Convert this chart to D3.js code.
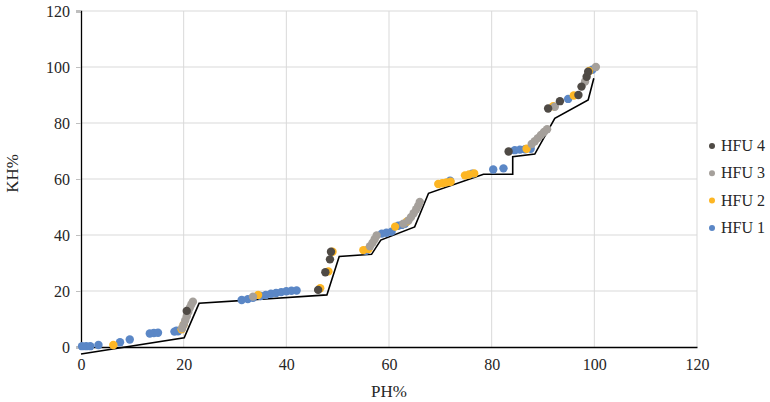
<!DOCTYPE html>
<html>
<head>
<meta charset="utf-8">
<script src="https://cdn.jsdelivr.net/npm/d3@7"></script>
<style>
  body { margin: 0; background: #fff; }
  svg text { font-family: "Liberation Serif", "Times New Roman", serif !important; fill: #262626; }
</style>
</head>
<body>
<div id="chart"></div>
<script>
// tick labels
const xTicks = [0, 20, 40, 60, 80, 100, 120];
const yTicks = [0, 20, 40, 60, 80, 100, 120];

// series names, legend order (top to bottom)
const seriesNames = ['HFU 4', 'HFU 3', 'HFU 2', 'HFU 1'];

// [PH%, KH%]
const hfu1 = [
  [0.2, 0.3], [1.0, 0.3], [1.8, 0.3], [3.4, 0.7], [7.6, 1.7], [9.5, 2.7],
  [13.4, 4.8], [14.2, 5.0], [15.0, 5.1], [18.2, 5.5], [18.9, 5.6], [18.6, 5.8],
  [31.3, 16.8], [32.5, 17.1], [33.5, 17.6], [35, 18.2], [36, 18.6], [37, 19],
  [38, 19.3], [39, 19.6], [40, 19.9], [41, 20.1], [42, 20.2],
  [55.5, 34.4], [58.6, 40.5], [59.5, 40.8], [60.5, 41.2], [61.8, 43.3], [62.5, 43.6], [63.1, 44],
  [71.9, 59.4], [76.2, 61.9], [80.3, 63.4], [82.3, 63.8],
  [84.5, 70.3], [85.5, 70.5], [86.5, 70.6], [87.6, 70.8], [94.9, 88.6], [99.6, 99]
];
const hfu2 = [
  [6.3, 0.7], [19.6, 6.3], [20.0, 8], [34.5, 18.6], [46.6, 21], [48.2, 27], [49, 34],
  [55, 34.6], [56, 35], [61.2, 43], [63.5, 44.8],
  [69.6, 58.2], [70.4, 58.5], [71.2, 58.8], [72.0, 59.0], [74.8, 61.3], [75.6, 61.6], [76.6, 62.0],
  [86.8, 70.8], [92.0, 86], [96, 89.8], [99, 98.6]
];
const hfu3 = [
  [19.7, 6.7], [20.0, 8], [20.3, 9.5], [20.6, 11], [20.9, 12.5], [21.2, 14], [21.5, 15.2], [21.8, 16.2],
  [33.5, 18],
  [56.3, 36], [56.8, 37.2], [57.2, 38.5], [57.6, 39.8],
  [62.8, 44], [63.8, 45.2], [64.3, 46.4], [64.8, 47.8], [65.3, 49.2], [65.7, 50.5], [66.0, 51.8],
  [87.8, 72.5], [88.4, 73.5], [89, 74.6], [89.6, 75.7], [90.2, 76.8], [90.8, 77.8],
  [92.3, 85.8], [98.2, 94.8], [100.3, 100]
];
const hfu4 = [
  [20.6, 12.9], [46.2, 20.4], [47.6, 26.7], [48.5, 31.3], [48.7, 34.0],
  [83.3, 69.8], [91.0, 85.2], [93.3, 87.8], [96.9, 90], [97.5, 93], [98.5, 96.5], [98.8, 98.3]
];

// black reference line
const refLine = [
  [0, -2.5], [20.1, 3.3], [23, 15.6], [47.9, 18.6], [50.3, 32.3], [56.6, 33.1],
  [58.4, 38.2], [65, 42.9], [67.7, 54.9], [78.4, 61.7], [84.1, 61.7], [84.1, 68.0],
  [88.4, 68.9], [92.3, 81.7], [98.8, 88.2], [99.9, 96]
];

const colors = {
  'HFU 4': '#4f4a45',
  'HFU 3': '#a5a09b',
  'HFU 2': '#fdb624',
  'HFU 1': '#5b87c6'
};

const width = 770;
const height = 402;

const svg = d3.select('#chart')
  .append('svg')
  .attr('width', width)
  .attr('height', height);

const x = d3.scaleLinear().domain([0, 120]).range([81, 697]);
const y = d3.scaleLinear().domain([0, 120]).range([347, 11]);

// gridlines
svg.append('g')
  .selectAll('line')
  .data(xTicks.slice(1))
  .enter()
  .append('line')
  .attr('x1', d => x(d)).attr('x2', d => x(d))
  .attr('y1', y(0)).attr('y2', y(120))
  .attr('stroke', '#d9d9d9');

svg.append('g')
  .selectAll('line')
  .data(yTicks.slice(1))
  .enter()
  .append('line')
  .attr('x1', x(0)).attr('x2', x(120))
  .attr('y1', d => y(d)).attr('y2', d => y(d))
  .attr('stroke', '#d9d9d9');

// axes
const xAxis = svg.append('g')
  .attr('transform', `translate(0,${y(0)})`)
  .call(d3.axisBottom(x).tickValues(xTicks).tickSize(0).tickPadding(12));
xAxis.select('.domain').attr('stroke', '#000').attr('stroke-width', 1.3);

const yAxis = svg.append('g')
  .attr('transform', `translate(${x(0)},0)`)
  .call(d3.axisLeft(y).tickValues(yTicks).tickSize(5).tickPadding(6));
yAxis.select('.domain').attr('stroke', '#000').attr('stroke-width', 1.3);
yAxis.selectAll('.tick line').attr('stroke', '#bfbfbf');

svg.selectAll('g').attr('font-family', '"Liberation Serif", serif');
svg.selectAll('.tick text')
  .attr('font-size', 16)
  .attr('fill', '#262626');

// axis titles
svg.append('text')
  .attr('x', 389)
  .attr('y', 397)
  .attr('text-anchor', 'middle')
  .attr('font-size', 17)
  .text('PH%');

svg.append('text')
  .attr('transform', `translate(18,${y(62)}) rotate(-90)`)
  .attr('text-anchor', 'middle')
  .attr('font-size', 17)
  .text('KH%');

// reference line
const line = d3.line()
  .x(d => x(d[0]))
  .y(d => y(d[1]));

svg.append('path')
  .datum(refLine)
  .attr('d', line)
  .attr('fill', 'none')
  .attr('stroke', '#000')
  .attr('stroke-width', 1.6);

// points, HFU 1 drawn first so HFU 4 ends on top
const seriesData = { 'HFU 1': hfu1, 'HFU 2': hfu2, 'HFU 3': hfu3, 'HFU 4': hfu4 };
['HFU 1', 'HFU 2', 'HFU 3', 'HFU 4'].forEach(name => {
  svg.append('g')
    .selectAll('circle')
    .data(seriesData[name])
    .enter()
    .append('circle')
    .attr('cx', d => x(d[0]))
    .attr('cy', d => y(d[1]))
    .attr('r', 4.2)
    .attr('fill', colors[name]);
});

// legend
const legend = svg.append('g')
  .selectAll('g')
  .data(seriesNames)
  .enter()
  .append('g')
  .attr('transform', (d, i) => `translate(712,${146 + i * 27.3})`);

legend.append('circle')
  .attr('r', 3)
  .attr('fill', d => colors[d]);

legend.append('text')
  .attr('x', 9)
  .attr('y', 5)
  .attr('font-size', 16)
  .text(d => d);
</script>
</body>
</html>
